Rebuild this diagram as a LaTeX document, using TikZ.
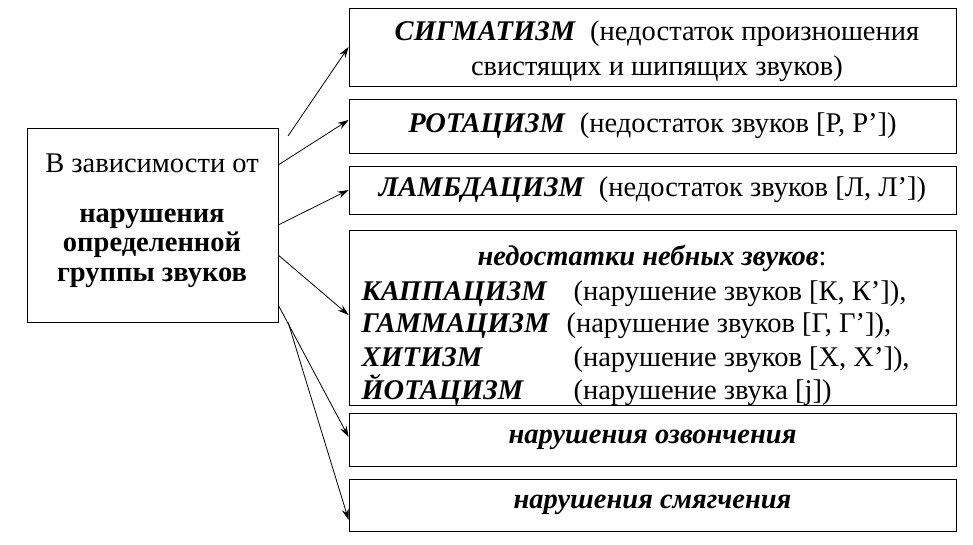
\documentclass[tikz,border=0pt]{standalone}
\usepackage{fontspec}
\setmainfont{Liberation Serif}
\usetikzlibrary{arrows.meta}
\begin{document}
\begin{tikzpicture}[x=1pt,y=-1pt,font=\fontsize{28.5}{36}\selectfont,
  box/.style={draw,line width=0.8pt},
  arr/.style={-{Stealth[length=11pt,width=7pt]},line width=0.8pt},
  bi/.style={font=\fontsize{28.5}{36}\selectfont\bfseries\itshape}]
\useasboundingbox (0,0) rectangle (973,544);
\draw[box] (27,128) rectangle (278,322);
\node (L) at (152.5,225) [minimum width=251pt,minimum height=194pt] {};
\node[anchor=base] at (152,172) {В зависимости от};
\node[font=\fontsize{28.5}{30}\selectfont\bfseries,anchor=base] at (152,222) {нарушения};
\node[font=\fontsize{28.5}{30}\selectfont\bfseries,anchor=base] at (152,251) {определенной};
\node[font=\fontsize{28.5}{30}\selectfont\bfseries,anchor=base] at (152,281) {группы звуков};
\node[box,minimum width=607pt,minimum height=78pt] (b1) at (652.5,47) {};
\node[anchor=base] at (657,40) {\textbf{\textit{СИГМАТИЗМ}}\ \ (недостаток произношения};
\node[anchor=base] at (657,75) {свистящих и шипящих звуков)};
\node[box,minimum width=607pt,minimum height=54pt] (b2) at (652.5,126) {\textbf{\textit{РОТАЦИЗМ}}\ \ (недостаток звуков [Р, Р’])};
\node[box,minimum width=607pt,minimum height=48pt] (b3) at (652.5,190) {\textbf{\textit{ЛАМБДАЦИЗМ}}\ \ (недостаток звуков [Л, Л’])};
\node[box,minimum width=607pt,minimum height=175pt] (b4) at (652.5,317.5) {};
\node[anchor=base] at (652,265) {\textbf{\textit{недостатки небных звуков}}:};
\node[bi,anchor=base west] at (358,300) {КАППАЦИЗМ};
\node[bi,anchor=base west] at (358,332) {ГАММАЦИЗМ};
\node[bi,anchor=base west] at (358,366) {ХИТИЗМ};
\node[bi,anchor=base west] at (358,399) {ЙОТАЦИЗМ};
\node[anchor=base west] at (570,300) {(нарушение звуков [К, К’]),};
\node[anchor=base west] at (563,332) {(нарушение звуков [Г, Г’]),};
\node[anchor=base west] at (570,366) {(нарушение звуков [Х, Х’]),};
\node[anchor=base west] at (570,399) {(нарушение звука [j])};
\node[box,minimum width=607pt,minimum height=53pt,bi] (b5) at (652.5,439.5) {нарушения озвончения};
\node[box,minimum width=607pt,minimum height=52pt,bi] (b6) at (652.5,505) {нарушения смягчения};
\coordinate (s1) at (288,136);
\coordinate (s6) at (288,322);
\draw[arr] (s1) -- (b1.west);
\draw[arr] (L.east |- 0,165) -- (b2.west |- 0,120);
\draw[arr] (L.east |- 0,225) -- (b3.west);
\draw[arr] (L.east |- 0,255) -- (b4.west |- 0,315);
\draw[arr] (L.east |- 0,305) -- (b5.west |- 0,437);
\draw[arr] (s6) -- (b6.west |- 0,520);
\end{tikzpicture}
\end{document}
